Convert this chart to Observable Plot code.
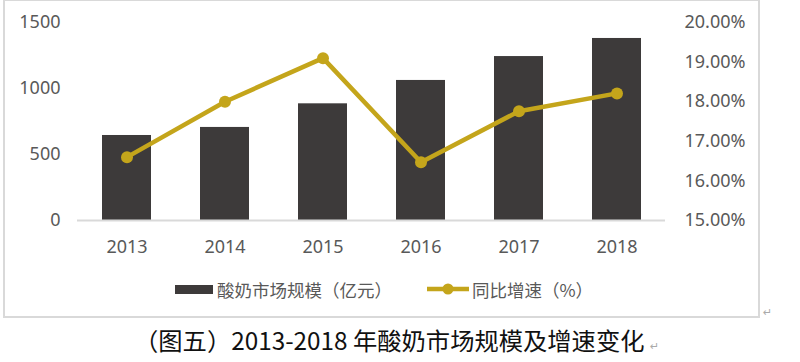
<!DOCTYPE html>
<html>
<head>
<meta charset="utf-8">
<script src="https://cdn.jsdelivr.net/npm/d3@7"></script>
<script src="https://cdn.jsdelivr.net/npm/@observablehq/plot@0.6"></script>
<style>
  html, body { margin: 0; padding: 0; background: #fff; }
  body { width: 800px; height: 362px; position: relative; overflow: hidden; font-family: "Noto Sans", "Noto Sans CJK SC", sans-serif; }
  #frame { position: absolute; left: 3px; top: -1px; width: 757px; height: 319px; border: 2px solid #d9d9d9; box-sizing: border-box; }
  .layer { position: absolute; left: 0; top: 0; }
  #legend { position: absolute; left: 0; top: 278px; width: 760px; height: 22px; font-size: 17.5px; color: #595959; font-family: "Noto Sans CJK SC", sans-serif; }
  .li { position: absolute; top: 0; display: flex; align-items: center; height: 22px; }
  #caption { position: absolute; left: 134px; top: 325px; font-size: 24.3px; color: #111; font-family: "Noto Sans CJK SC", sans-serif; line-height: 30px; white-space: nowrap; }
  .mark { color: #aaa; font-size: 11px; font-family: "DejaVu Sans", sans-serif; }
</style>
</head>
<body>
<div id="frame"></div>
<div id="chart"></div>
<div id="legend"></div>
<div id="caption"></div>
<div class="mark" style="position:absolute;left:763px;top:306px;">↵</div>
<script>
const years = ["2013", "2014", "2015", "2016", "2017", "2018"];
const marketSize = [644, 705, 884, 1061, 1242, 1379];
const growthRate = [16.6, 18.0, 19.1, 16.47, 17.76, 18.21];
const leftTicks = [0, 500, 1000, 1500];
const rightTicks = [15, 16, 17, 18, 19, 20];
const barLabel = "酸奶市场规模（亿元）";
const lineLabel = "同比增速（%）";
const captionText = "（图五）2013-2018 年酸奶市场规模及增速变化";

const data = years.map((y, i) => ({year: y, size: marketSize[i], rate: growthRate[i]}));

const W = 760, H = 262;
const margins = {marginLeft: 77, marginRight: 95, marginTop: 22, marginBottom: 42};
const xOpts = {type: "band", domain: years, paddingInner: 0.5, paddingOuter: 0.25, align: 0.5};
const barColor = "#3d3a3a";
const lineColor = "#c4a51b";
const font = {fontFamily: "Noto Sans, sans-serif", fontSize: "18px", color: "#595959", background: "transparent", overflow: "visible"};

const bars = Plot.plot({
  width: W, height: H, ...margins,
  style: font,
  x: {...xOpts, label: null},
  y: {domain: [0, 1500], label: null},
  marks: [
    Plot.barY(data, {x: "year", y: "size", fill: barColor}),
    Plot.ruleY([0], {stroke: "#d9d9d9", strokeWidth: 1.8}),
    Plot.axisY(leftTicks, {anchor: "left", tickSize: 0, tickPadding: 17, label: null, fill: "#595959", tickFormat: d => String(d)}),
    Plot.axisX({anchor: "bottom", tickSize: 0, tickPadding: 20, label: null, fill: "#595959"})
  ]
});
bars.classList.add("layer");

const line = Plot.plot({
  width: W, height: H, ...margins,
  style: font,
  x: {...xOpts, axis: null},
  y: {domain: [15, 20], label: null},
  marks: [
    Plot.line(data, {x: "year", y: "rate", stroke: lineColor, strokeWidth: 4.5, strokeLinejoin: "round"}),
    Plot.dot(data, {x: "year", y: "rate", r: 6, fill: lineColor, stroke: null}),
    Plot.axisY(rightTicks, {anchor: "right", tickSize: 0, tickPadding: 19, label: null, fill: "#595959", tickFormat: d => d.toFixed(2) + "%"})
  ]
});
line.classList.add("layer");

const chart = document.getElementById("chart");
chart.appendChild(bars);
chart.appendChild(line);

// legend
const legend = document.getElementById("legend");
const li1 = document.createElement("div");
li1.className = "li"; li1.style.left = "175px";
li1.innerHTML = `<span style="display:inline-block;width:38px;height:9px;background:${barColor};margin-right:4px"></span><span>${barLabel}</span>`;
legend.appendChild(li1);
const li2 = document.createElement("div");
li2.className = "li"; li2.style.left = "427px";
li2.innerHTML = `<svg width="42" height="14" style="margin-right:3px"><line x1="0" y1="7" x2="42" y2="7" stroke="${lineColor}" stroke-width="4.5"/><circle cx="21" cy="7" r="5.5" fill="${lineColor}"/></svg><span>${lineLabel}</span>`;
legend.appendChild(li2);

document.getElementById("caption").innerHTML = captionText + ' <span class="mark">↵</span>';
</script>
</body>
</html>
